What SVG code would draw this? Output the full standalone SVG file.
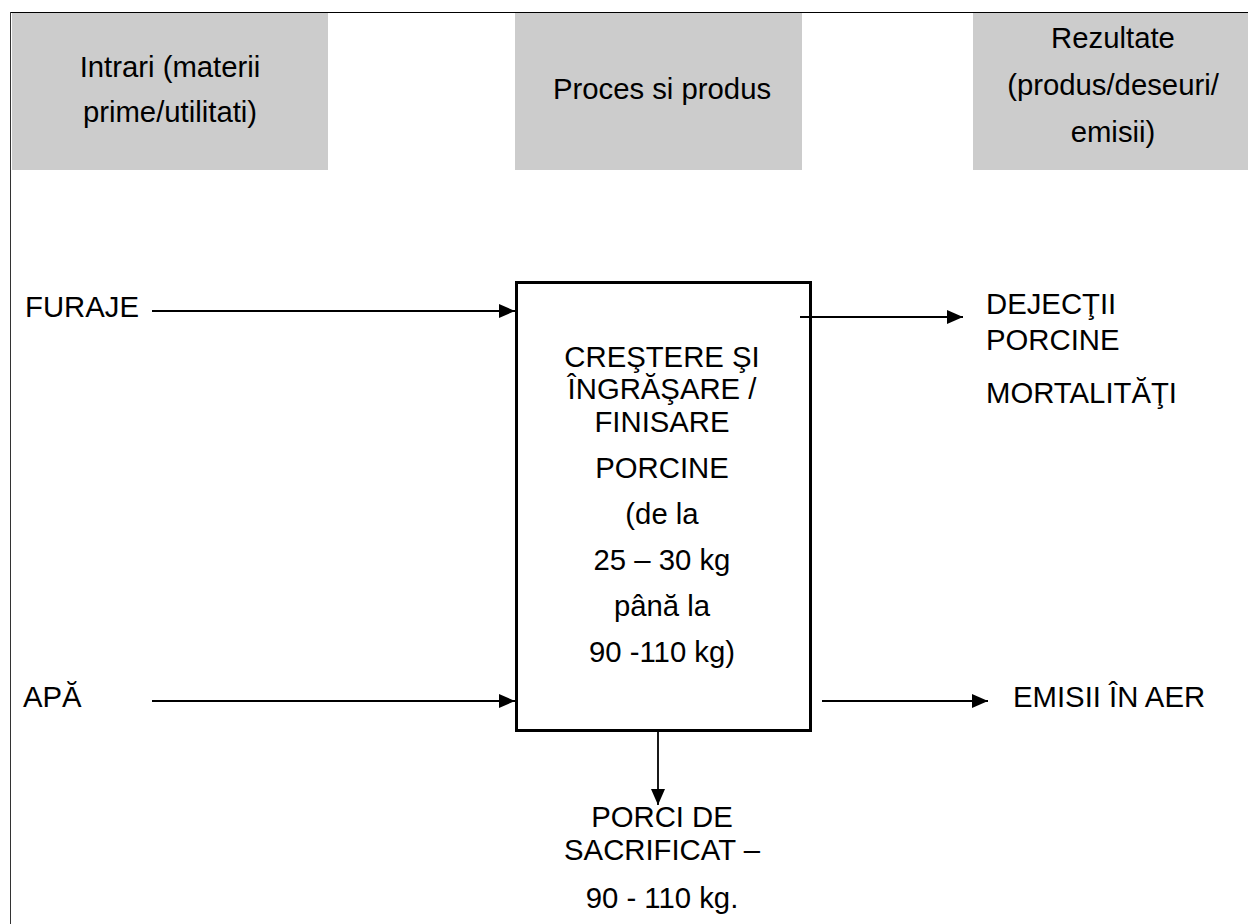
<svg xmlns="http://www.w3.org/2000/svg" width="1248" height="924" viewBox="0 0 1248 924">
<style>
.t{font-family:"Liberation Sans",Arial,sans-serif;font-size:29.3px;fill:#000}
.c{text-anchor:middle}
.hdr{fill:#cccccc}
.ln{stroke:#000;stroke-width:1.8;fill:none}
</style>
<defs>
<marker id="ah" markerUnits="userSpaceOnUse" markerWidth="16" markerHeight="14" refX="16" refY="7" orient="auto">
<path d="M0,0 L16,7 L0,14 z" fill="#000"/>
</marker>
</defs>
<rect width="1248" height="924" fill="#fff"/>
<g id="frame">
<line x1="10" y1="12.5" x2="1248" y2="12.5" stroke="#000" stroke-width="1"/>
<line x1="10.5" y1="12" x2="10.5" y2="924" stroke="#333" stroke-width="1"/>
</g>
<g id="hdr-inputs">
<rect class="hdr" x="12" y="13" width="316" height="157"/>
<text class="t c" x="170" y="77">Intrari (materii</text>
<text class="t c" x="170" y="122">prime/utilitati)</text>
</g>
<g id="hdr-process">
<rect class="hdr" x="515" y="13" width="287" height="157"/>
<text class="t c" x="662" y="99">Proces si produs</text>
</g>
<g id="hdr-results">
<rect class="hdr" x="973" y="13" width="275" height="157"/>
<text class="t c" x="1113" y="48">Rezultate</text>
<text class="t c" x="1113" y="95">(produs/deseuri/</text>
<text class="t c" x="1113" y="142">emisii)</text>
</g>
<g id="process">
<rect x="516.5" y="282.5" width="294" height="448" fill="none" stroke="#000" stroke-width="3"/>
<text class="t c" x="662" y="367">CREŞTERE ŞI</text>
<text class="t c" x="662" y="399">ÎNGRĂŞARE /</text>
<text class="t c" x="662" y="432">FINISARE</text>
<text class="t c" x="662" y="478">PORCINE</text>
<text class="t c" x="662" y="524">(de la</text>
<text class="t c" x="662" y="570">25 – 30 kg</text>
<text class="t c" x="662" y="616">până la</text>
<text class="t c" x="662" y="662">90 -110 kg)</text>
</g>
<g id="furaje"><text class="t" x="25" y="317">FURAJE</text></g>
<g id="apa"><text class="t" x="23" y="707">APĂ</text></g>
<g id="dejectii">
<text class="t" x="986" y="314">DEJECŢII</text>
<text class="t" x="986" y="350">PORCINE</text>
<text class="t" x="986" y="403">MORTALITĂŢI</text>
</g>
<g id="emisii"><text class="t" x="1013" y="707">EMISII ÎN AER</text></g>
<g id="porci">
<text class="t c" x="662" y="827">PORCI DE</text>
<text class="t c" x="662" y="860">SACRIFICAT –</text>
<text class="t c" x="662" y="908">90 - 110 kg.</text>
</g>
<g id="connectors">
<line class="ln" x1="152" y1="311" x2="515" y2="311" marker-end="url(#ah)"/>
<line class="ln" x1="152" y1="701" x2="515" y2="701" marker-end="url(#ah)"/>
<line class="ln" x1="800" y1="317" x2="963" y2="317" marker-end="url(#ah)"/>
<line class="ln" x1="822" y1="701" x2="988" y2="701" marker-end="url(#ah)"/>
<line class="ln" x1="658" y1="732" x2="658" y2="805" marker-end="url(#ah)"/>
</g>
</svg>
